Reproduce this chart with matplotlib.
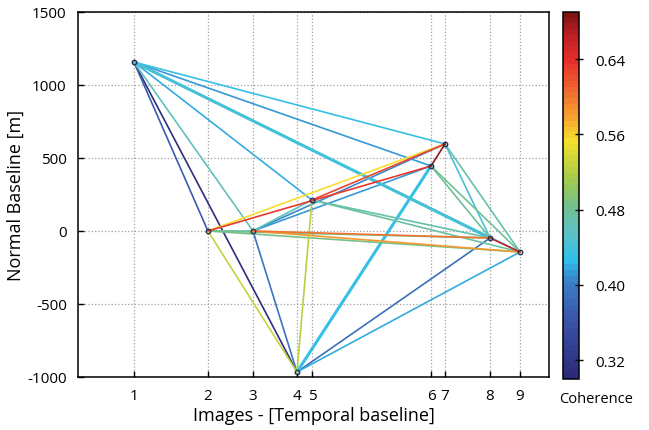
import numpy as np
import matplotlib
matplotlib.use("Agg")
import matplotlib.pyplot as plt
from matplotlib.colors import LinearSegmentedColormap, Normalize

plt.rcParams['font.family'] = ['Open Sans', 'DejaVu Sans']
plt.rcParams['axes.unicode_minus'] = False

# acquisitions: temporal position (days from image 1) and normal baseline (m)
image_ids = [1, 2, 3, 4, 5, 6, 7, 8, 9]
temporal_days = [0, 74, 119, 163, 178, 297, 311, 356, 386]
normal_baseline = [1157, 0, 0, -966, 212, 445, 596, -48, -144]

# interferometric pairs (master, slave) and their mean coherence
pairs = [
    (1, 2), (1, 3), (1, 4), (1, 5), (1, 6), (1, 7), (1, 8), (1, 9),
    (2, 3), (2, 4), (2, 6), (2, 7), (2, 8), (2, 9),
    (3, 4), (3, 5), (3, 6), (3, 7), (3, 8), (3, 9),
    (4, 5), (4, 6), (4, 8), (4, 9),
    (5, 7), (5, 8), (5, 9),
    (6, 7), (6, 8), (6, 9),
    (7, 8), (7, 9), (8, 9),
]
coherence = [
    0.37, 0.46, 0.31, 0.42, 0.413, 0.43, 0.44, 0.445,
    0.47, 0.53, 0.635, 0.555, 0.48, 0.485,
    0.395, 0.46, 0.41, 0.405, 0.60, 0.585,
    0.52, 0.43, 0.39, 0.42,
    0.625, 0.47, 0.475,
    0.68, 0.48, 0.48,
    0.445, 0.465, 0.665,
]
thick_pairs = [(1, 8), (4, 6)]

jet_like = LinearSegmentedColormap.from_list("coh", [
    (0.00, "#2b2a7a"), (0.15, "#3a52a6"), (0.26, "#3b7cc6"),
    (0.32, "#2ec0ec"), (0.40, "#5cc2c4"), (0.47, "#72c08c"),
    (0.55, "#a8cc48"), (0.65, "#f6e02c"), (0.72, "#f7a030"),
    (0.80, "#ef6230"), (0.87, "#e8302c"), (0.94, "#c01f24"),
    (1.00, "#7e1414"),
], N=64)
norm = Normalize(vmin=0.30, vmax=0.69)

fig = plt.figure(figsize=(6.49, 4.31), dpi=100)
ax = fig.add_axes([0.120, 0.123, 0.726, 0.847])

pos = {i: (t, b) for i, t, b in zip(image_ids, temporal_days, normal_baseline)}
order = np.argsort(coherence)
for k in order:
    a, b = pairs[k]
    lw = 2.2 if (a, b) in thick_pairs else 1.2
    ax.plot([pos[a][0], pos[b][0]], [pos[a][1], pos[b][1]],
            color=jet_like(norm(coherence[k])), lw=lw, zorder=2)

ax.plot(temporal_days, normal_baseline, 'o', ms=3.2, mfc='none',
        mec='#2a3050', mew=1.0, zorder=3, linestyle='none')

ax.set_xlim(-56, 415)
ax.set_ylim(-1000, 1500)
ax.set_xticks(temporal_days)
ax.set_xticklabels([str(i) for i in image_ids])
ax.set_yticks([-1000, -500, 0, 500, 1000, 1500])
ax.tick_params(direction='in', length=4, labelsize=11, width=1, pad=8)
ax.grid(True, linestyle=':', color='#a0a0a0', lw=0.9)
for s in ax.spines.values():
    s.set_linewidth(1.1)
ax.set_xlabel("Images - [Temporal baseline]", fontsize=13, labelpad=2)
ax.set_ylabel("Normal Baseline [m]", fontsize=13, labelpad=2)

cax = fig.add_axes([0.8675, 0.118, 0.0247, 0.852])
sm = plt.cm.ScalarMappable(cmap=jet_like, norm=norm)
cb = fig.colorbar(sm, cax=cax)
cb.set_ticks([0.32, 0.40, 0.48, 0.56, 0.64])
cb.set_ticklabels(["0.32", "0.40", "0.48", "0.56", "0.64"])
cax.tick_params(direction='inout', length=6, labelsize=11, width=1, pad=9)
cb.outline.set_linewidth(1.1)
fig.text(0.918, 0.074, "Coherence", ha='center', va='center', fontsize=10.5)

fig.savefig("out.png", dpi=100)
